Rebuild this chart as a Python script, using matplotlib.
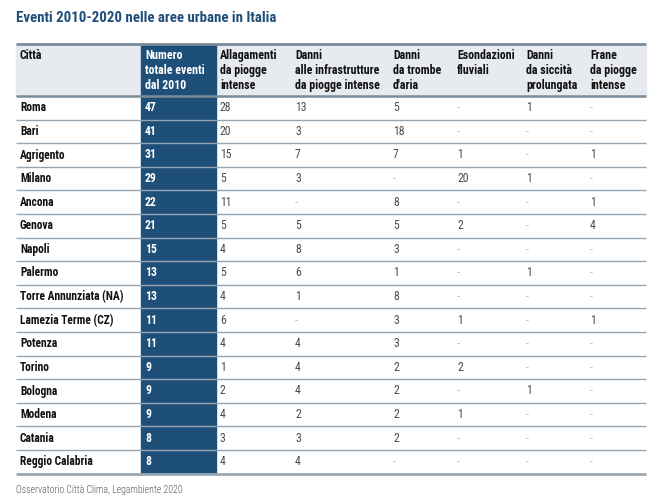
import matplotlib
matplotlib.use("Agg")
import matplotlib.pyplot as plt
from matplotlib import font_manager as fm
from matplotlib.patches import Rectangle

# ---------------- data ----------------
title = "Eventi 2010-2020 nelle aree urbane in Italia"
source = "Osservatorio Città Clima, Legambiente 2020"
headers = ["Città", "Numero\ntotale eventi\ndal 2010", "Allagamenti\nda piogge\nintense",
           "Danni\nalle infrastrutture\nda piogge intense", "Danni\nda trombe\nd'aria",
           "Esondazioni\nfluviali", "Danni\nda siccità\nprolungata", "Frane\nda piogge\nintense"]
cities = ["Roma", "Bari", "Agrigento", "Milano", "Ancona", "Genova", "Napoli", "Palermo",
          "Torre Annunziata (NA)", "Lamezia Terme (CZ)", "Potenza", "Torino", "Bologna",
          "Modena", "Catania", "Reggio Calabria"]
totals = [47, 41, 31, 29, 22, 21, 15, 13, 13, 11, 11, 9, 9, 9, 8, 8]
allagamenti = [28, 20, 15, 5, 11, 5, 4, 5, 4, 6, 4, 1, 2, 4, 3, 4]
infrastrutture = [13, 3, 7, 3, None, 5, 8, 6, 1, None, 4, 4, 4, 2, 3, 4]
trombe = [5, 18, 7, None, 8, 5, 3, 1, 8, 3, 3, 2, 2, 2, 2, None]
esondazioni = [None, None, 1, 20, None, 2, None, None, None, 1, None, 2, None, 1, None, None]
siccita = [1, None, None, 1, None, None, None, 1, None, None, None, None, 1, None, None, None]
frane = [None, None, 1, None, 1, 4, None, None, None, 1, None, None, None, None, None, None]

# ---------------- fonts ----------------
def pick(cands):
    for c in cands:
        try:
            fm.findfont(fm.FontProperties(family=c), fallback_to_default=False)
            return c
        except Exception:
            pass
    return "DejaVu Sans"

cond = pick(["Liberation Sans Narrow", "Roboto Condensed", "Open Sans Condensed", "DejaVu Sans"])
stretch = "normal" if cond != "DejaVu Sans" else "condensed"

W, H = 659, 503
fig = plt.figure(figsize=(W / 100, H / 100), dpi=100)
ax = fig.add_axes([0, 0, 1, 1])
ax.set_xlim(0, W)
ax.set_ylim(H, 0)
ax.axis("off")

left, right = 16, 646
top_hdr, bot_hdr = 43.5, 96
row_h = 23.6
col_x = [16, 141, 216, 291, 389, 453, 522, 586]
pad = 4

navy = "#1d4f78"
hdr_bg = "#e7eaee"
line_c = "#97a5b1"
title_c = "#1f4e7a"

n = len(cities)
bottom = bot_hdr + n * row_h

# header bg
ax.add_patch(Rectangle((left, top_hdr), right - left, bot_hdr - top_hdr, color=hdr_bg, zorder=0))
# navy column
ax.add_patch(Rectangle((col_x[1], top_hdr), col_x[2] - col_x[1], bottom - top_hdr, color=navy, zorder=1))

# header text
for j, h in enumerate(headers):
    ax.text(col_x[j] + pad, top_hdr + 5.5, h, ha="left", va="top", fontsize=8.6,
            fontweight="bold", family=cond, stretch=stretch,
            color="white" if j == 1 else "#111111", linespacing=1.18, zorder=3)

def fmt(v):
    return "-" if v is None else str(v)

cols = [allagamenti, infrastrutture, trombe, esondazioni, siccita, frane]
for i in range(n):
    yc = bot_hdr + row_h * (i + 0.5)
    ax.text(col_x[0] + pad, yc, cities[i], ha="left", va="center", fontsize=8.3,
            fontweight="bold", family=cond, stretch=stretch, color="#111111", zorder=3)
    ax.text(col_x[1] + pad, yc, str(totals[i]), ha="left", va="center", fontsize=8.5,
            fontweight="bold", family=cond, stretch=stretch, color="white", zorder=3)
    for j, c in enumerate(cols):
        v = c[i]
        ax.text(col_x[j + 2] + pad, yc, fmt(v), ha="left", va="center", fontsize=8.5,
                family=cond, stretch=stretch,
                color="#bbbbbb" if v is None else "#4a4a4a", zorder=3)
    # row separator
    yb = bot_hdr + row_h * (i + 1)
    ax.plot([left, right], [yb, yb], color=line_c if i < n - 1 else "#9aa8b3",
            lw=1.0 if i < n - 1 else 2.0, zorder=4, solid_capstyle="butt")

ax.plot([left, right], [top_hdr, top_hdr], color="#7b8c99", lw=2.0, zorder=4, solid_capstyle="butt")
ax.plot([left, right], [bot_hdr, bot_hdr], color="#7b8c99", lw=1.8, zorder=4, solid_capstyle="butt")

ax.text(16, 18, title, ha="left", va="center", fontsize=10.7, fontweight="bold",
        family=cond, stretch=stretch, color=title_c)
ax.text(16, 490, source, ha="left", va="center", fontsize=7.0, fontweight="light",
        family=cond, stretch=stretch, color="#555555")

fig.savefig("out.png", dpi=100)
